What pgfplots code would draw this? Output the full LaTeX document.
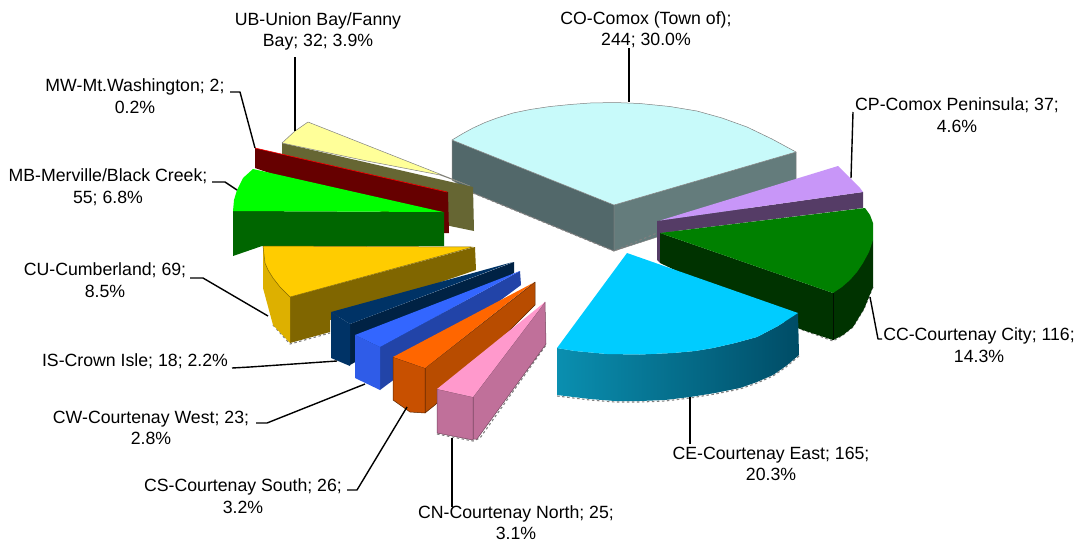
\documentclass[border=0pt]{standalone}
\usepackage{pgfplots}
\pgfplotsset{compat=1.18}
\usepackage{fontspec}
\setmainfont{Liberation Sans}
\definecolor{coT}{HTML}{C8FAFA}\definecolor{coL}{HTML}{52686A}\definecolor{coR}{HTML}{647C7C}
\definecolor{cpT}{HTML}{C896F8}\definecolor{cpS}{HTML}{553C66}
\definecolor{ccT}{HTML}{008000}\definecolor{ccS}{HTML}{003300}
\definecolor{ceT}{HTML}{00CCFF}\definecolor{ceA}{HTML}{0A8FB0}\definecolor{ceM}{HTML}{046A88}\definecolor{ceB}{HTML}{004C66}
\definecolor{ubT}{HTML}{FFFF99}\definecolor{ubS}{HTML}{666633}
\definecolor{mwS}{HTML}{660000}
\definecolor{mbT}{HTML}{00FF00}\definecolor{mbS}{HTML}{006600}
\definecolor{cuT}{HTML}{FFCC00}\definecolor{cuS}{HTML}{806600}\definecolor{cuL}{HTML}{DDB000}
\definecolor{isT}{HTML}{003366}\definecolor{isS}{HTML}{002244}
\definecolor{cwT}{HTML}{3366FF}\definecolor{cwS}{HTML}{2244A8}\definecolor{cwL}{HTML}{2F5CE8}
\definecolor{csT}{HTML}{FF6600}\definecolor{csS}{HTML}{B84C00}\definecolor{csL}{HTML}{C85000}
\definecolor{cnT}{HTML}{FF99CC}\definecolor{cnS}{HTML}{C0709A}
\tikzset{lbl/.style={font=\fontsize{17.7}{21.5}\selectfont,align=center,anchor=center,inner sep=0pt},
  lead/.style={black,line width=1.4pt},
  edge/.style={draw=#1,line width=0.5pt},
  rough/.style={draw=gray,line width=1.1pt,dash pattern=on 2.5pt off 2.5pt}}
\begin{document}
\begin{tikzpicture}
\begin{axis}[scale only axis,width=1081pt,height=542pt,xmin=0,xmax=1081,ymin=0,ymax=542,y dir=reverse,
  axis lines=none,no marks,clip=true,line join=round]
\path (axis cs:0,0) rectangle (axis cs:1081,542);
% Comox (Town of)
\addplot[fill=coL,edge=gray] coordinates {(452,140)(614,205)(614,251)(473,193)(452,180)} -- cycle;
\addplot[fill=coR,edge=gray] coordinates {(614,205)(796,152)(796,192)(614,251)} -- cycle;
\addplot[fill=coT,edge=gray] coordinates {(614,205)(452,140)(462,134)(473,128)(485,122.5)(497,118)(513,113)(530,109.5)(550,106.5)(570,104.5)(590,103)(615,102.5)(640,103.5)(670,106.5)(697,111)(722,118)(747,127)(772,139)(796,152)} -- cycle;
\addplot[rough] coordinates {(473,193)(614,251)(657,233)};
% Union Bay
\addplot[fill=ubS,draw=none] coordinates {(282,143)(473,187)(474,231)(445,225)(282,165)} -- cycle;
\addplot[fill=ubT,edge=gray] coordinates {(308,122)(295,131)(282,143)(367,161)(440,175)(470,186)} -- cycle;
% Mt Washington
\addplot[fill=mwS,draw=none] coordinates {(255,148)(448,192)(449,233)(443,233)(255,168)} -- cycle;
\addplot[draw=red,line width=0.6pt] coordinates {(255,148)(447,192)};
% Merville
\addplot[fill=mbS,draw=none] coordinates {(233,211)(444,212)(444,246)(262,246)(233,256)} -- cycle;
\addplot[fill=mbT,draw=none] coordinates {(253,169)(443,212)(233,211)(234,200)(237,190)(243,178)} -- cycle;
% Cumberland
\addplot[rough] coordinates {(273,325)(290,344)(330,333)};
\addplot[fill=cuS,draw=none] coordinates {(290,297)(475,247)(476,270)(330,320)(330,332)(290,343)} -- cycle;
\addplot[fill=cuL,draw=none] coordinates {(263,246)(265,263)(273,278)(290,297)(290,343)(273,325)(263,288)} -- cycle;
\addplot[fill=cuT,edge=cuS] coordinates {(263,246)(473,247)(290,297)(280,287)(273,278)(268,270)(265,263)} -- cycle;
% Crown Isle
\addplot[fill=isS,draw=none] coordinates {(350,324)(514,262)(514,273)(350,365)} -- cycle;
\addplot[fill=isT,draw=none] coordinates {(331,312)(350,324)(350,366)(331,358)} -- cycle;
\addplot[fill=isT,draw=none] coordinates {(331,312)(513,262)(350,324)} -- cycle;
% Courtenay West
\addplot[fill=cwS,draw=none] coordinates {(380,347)(520,271)(521,285)(380,390)} -- cycle;
\addplot[fill=cwL,draw=none] coordinates {(355,335)(380,347)(380,390)(355,378)} -- cycle;
\addplot[fill=cwT,draw=none] coordinates {(355,335)(520,271)(380,347)} -- cycle;
% Courtenay South
\addplot[fill=csS,edge=black!50!csS] coordinates {(425,368)(535,282)(535,305)(435,405)(425,413)} -- cycle;
\addplot[fill=csL,edge=black!50!csS] coordinates {(393,357)(425,368)(425,413)(410,412)(393,400)} -- cycle;
\addplot[fill=csT,draw=none] coordinates {(393,357)(533,283)(425,368)} -- cycle;
% Courtenay North
\addplot[rough] coordinates {(437,434)(473,441)(480,438)(546,345)};
\addplot[fill=cnS,edge=black!40!cnS] coordinates {(473,397)(545,302)(546,344)(477,439)(473,439)} -- cycle;
\addplot[fill=cnS,edge=black!40!cnS] coordinates {(437,389)(473,397)(473,440)(437,433)} -- cycle;
\addplot[fill=cnT,draw=none] coordinates {(437,389)(545,302)(473,397)} -- cycle;
% Comox Peninsula
\addplot[fill=cpS,draw=none] coordinates {(657,221)(863,192)(863,208)(660,233)(660,263)(657,260)} -- cycle;
\addplot[fill=cpT,draw=none] coordinates {(660,220.5)(838,166)(860,188)(863,192)} -- cycle;
% Courtenay City
\addplot[rough] coordinates {(873,287)(864,309)(853,327)(843,335)(833,341)(800,329)};
\addplot[fill=ccS,draw=none] coordinates {(660,233)(833,293)(873,240)(873,287)(864,309)(853,327)(843,335)(833,340)(800,329)(660,263)} -- cycle;
\addplot[fill=ccT,draw=none] coordinates {(660,233)(865,208)(870,215)(873,223)(873,240)(869,252)(863,263)(857,272)(850,280)(842,287)(833,293)} -- cycle;
\addplot[draw=black!70!ccS,line width=0.5pt] coordinates {(833,293)(833,340)};
% Courtenay East
\addplot[rough] coordinates {(799,356)(786,367)(773,376)(757,383)(740,389)(715,394)(690,398)(665,401)(640,402)(615,402)(590,400)(557,396)};
\addplot[left color=ceA,middle color=ceM,right color=ceB,draw=none] coordinates {(557,348)(575,351)(607,354)(640,354.5)(673,353)(695,351)(713,348)(735,343)(757,337)(778,326)(798,313)(799,355)(786,366)(773,375)(757,382)(740,388)(715,393)(690,397)(665,400)(640,401)(615,401)(590,399)(557,395)} -- cycle;
\addplot[fill=ceT,draw=none] coordinates {(627,253)(798,313)(778,326)(757,337)(735,343)(713,348)(695,351)(673,353)(640,354.5)(607,354)(575,351)(557,348)} -- cycle;
% leader lines
\addplot[lead] coordinates {(629,48)(629,102)};
\addplot[lead] coordinates {(853,112)(851,178)};
\addplot[lead] coordinates {(870,297)(878,339)(882,339)};
\addplot[lead] coordinates {(690,397)(690,444)};
\addplot[lead] coordinates {(452,438)(452,507)};
\addplot[lead] coordinates {(407,407)(357,490)(347,490)};
\addplot[lead] coordinates {(365,384)(267,423)(256,423)};
\addplot[lead] coordinates {(337,361)(250,367)(232,368)};
\addplot[lead] coordinates {(268,316)(203,278)(190,278)};
\addplot[lead] coordinates {(237,190)(225,182)(212,182)};
\addplot[lead] coordinates {(255,148)(240,92)(230,92)};
\addplot[lead] coordinates {(295,131)(295,57)};
% labels
\node[lbl] at (axis cs:318,31.5) {UB-Union Bay/Fanny\\Bay; 32; 3.9\%};
\node[lbl] at (axis cs:646,29.5) {CO-Comox (Town of);\\244; 30.0\%};
\node[lbl] at (axis cs:957,115) {CP-Comox Peninsula; 37;\\4.6\%};
\node[lbl] at (axis cs:979,345) {CC-Courtenay City; 116;\\14.3\%};
\node[lbl] at (axis cs:771,464) {CE-Courtenay East; 165;\\20.3\%};
\node[lbl] at (axis cs:516,522.5) {CN-Courtenay North; 25;\\3.1\%};
\node[lbl] at (axis cs:243,496) {CS-Courtenay South; 26;\\3.2\%};
\node[lbl] at (axis cs:151,428) {CW-Courtenay West; 23;\\2.8\%};
\node[lbl] at (axis cs:135,361) {IS-Crown Isle; 18; 2.2\%};
\node[lbl] at (axis cs:105,280) {CU-Cumberland; 69;\\8.5\%};
\node[lbl] at (axis cs:108,187) {MB-Merville/Black Creek;\\55; 6.8\%};
\node[lbl] at (axis cs:135,96) {MW-Mt.Washington; 2;\\0.2\%};
\end{axis}
\end{tikzpicture}
\end{document}
